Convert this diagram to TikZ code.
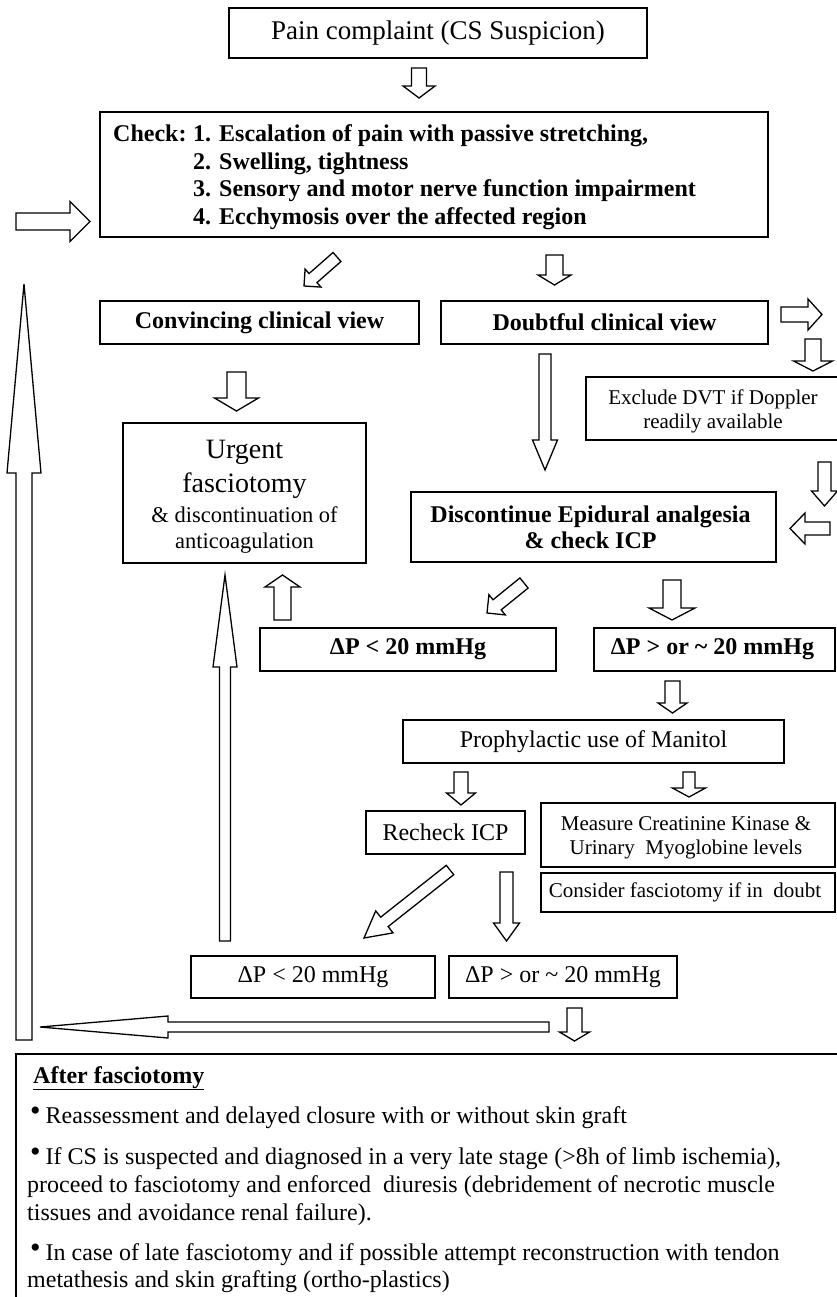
\documentclass[tikz,border=0pt]{standalone}
\usepackage{fontspec}
\setmainfont{Liberation Serif}
\usetikzlibrary{calc}
\tikzset{
  box/.style={draw=black, line width=1.1pt, rectangle, inner sep=0pt},
  blk/.style={draw=black, line width=1.3pt, fill=white, line join=miter},
  tA/.style={font=\fontsize{27}{30}\selectfont},
  tB/.style={font=\fontsize{24}{28}\selectfont\bfseries},
  tR/.style={font=\fontsize{24}{28}\selectfont},
  tS/.style={font=\fontsize{21}{24}\selectfont},
  tU/.style={font=\fontsize{22.5}{26}\selectfont},
  tBody/.style={font=\fontsize{24}{28}\selectfont},
  ln/.style={inner sep=0pt, anchor=base west},
  lc/.style={inner sep=0pt, anchor=base}
}
\newcommand{\BlkArrow}[5]{%
  \coordinate (tmpB) at ($(#2)!#5!(#1)$);
  \draw[blk] ($(#1)!#3!90:(#2)$) -- ($(tmpB)!#3!90:(#2)$) -- ($(tmpB)!#4!90:(#2)$) -- (#2)
    -- ($(tmpB)!#4!-90:(#2)$) -- ($(tmpB)!#3!-90:(#2)$) -- ($(#1)!#3!-90:(#2)$) -- cycle;}
\newcommand{\bul}{{\fontsize{30}{30}\selectfont\raisebox{2.5pt}{•}}\hspace{5pt}}
\newcommand{\tld}{\textasciitilde}
\begin{document}
\begin{tikzpicture}[x=1pt,y=1pt]
\useasboundingbox (0,0) rectangle (836,-1297);
\fill[white] (0,0) rectangle (836,-1297);

% boxes
\node[box, tA, minimum width=418, minimum height=50] (pain) at (438,-33) {Pain complaint (CS Suspicion)};
\node[box, minimum width=668, minimum height=125] (check) at (434,-174.5) {};
\node[box, tB, minimum width=319, minimum height=43] (conv) at (259.5,-322.5) {Convincing clinical view};
\node[box, tB, minimum width=327, minimum height=43] (doubt) at (604.5,-322.5) {Doubtful clinical view};
\node[box, minimum width=254, minimum height=63] (excl) at (713,-408.5) {};
\node[box, minimum width=243, minimum height=140] (urg) at (244.5,-493) {};
\node[box, minimum width=365, minimum height=70] (disc) at (593.5,-527) {};
\node[box, tB, minimum width=296, minimum height=43] (dpla) at (408,-649.5) {ΔP < 20 mmHg};
\node[box, tB, minimum width=241, minimum height=43] (dpga) at (714.5,-649.5) {\hspace*{-4pt}ΔP > or \tld{} 20 mmHg};
\node[box, tR, minimum width=381, minimum height=43] (mani) at (593.5,-741.5) {Prophylactic use of Manitol};
\node[box, tR, minimum width=159, minimum height=43] (rech) at (445.5,-832.5) {Recheck ICP};
\node[box, minimum width=294, minimum height=64] (meas) at (688,-835) {};
\node[box, tS, minimum width=294, minimum height=39] (cons) at (688,-892.5) {\hspace*{-6pt}Consider fasciotomy if in\ \ doubt};
\node[box, tR, minimum width=244, minimum height=42] (dplb) at (313,-977) {ΔP < 20 mmHg};
\node[box, tR, minimum width=228, minimum height=42] (dpgb) at (563,-977) {ΔP > or \tld{} 20 mmHg};
\node[box, minimum width=834, minimum height=266] (after) at (433,-1187) {};

% texts of multi-line boxes
\node[ln, tB] (chk0) at (113,-142) {Check:};
\node[ln, tB] (chk1) at (193,-142) {1. Escalation of pain with passive stretching,};
\node[ln, tB] (chk2) at (193,-170) {2. Swelling, tightness};
\node[ln, tB] (chk3) at (193,-197) {3. Sensory and motor nerve function impairment};
\node[ln, tB] (chk4) at (193,-225) {4. Ecchymosis over the affected region};

\node[lc, tS] (ex1) at (713,-404) {Exclude DVT if Doppler};
\node[lc, tS] (ex2) at (713,-428) {readily available};

\node[lc, font=\fontsize{28}{30}\selectfont] (ug1) at (244.5,-458) {Urgent};
\node[lc, font=\fontsize{28}{30}\selectfont] (ug2) at (244.5,-492) {fasciotomy};
\node[lc, tU] (ug3) at (244.5,-522) {\& discontinuation of};
\node[lc, tU] (ug4) at (244.5,-548) {anticoagulation};

\node[lc, tB] (dc1) at (590.5,-522) {Discontinue Epidural analgesia};
\node[lc, tB] (dc2) at (590.5,-548) {\& check ICP};

\node[lc, tS] (ms1) at (686,-830) {Measure Creatinine Kinase \&};
\node[lc, tS] (ms2) at (686,-854) {Urinary\ \ Myoglobine levels};

\node[ln, tB] (af0) at (33,-1083) {\underline{After fasciotomy}};
\node[ln, tBody] (af1) at (30,-1123) {\bul Reassessment and delayed closure with or without skin graft};
\node[ln, tBody] (af2) at (30,-1164) {\bul If CS is suspected and diagnosed in a very late stage (>8h of limb ischemia),};
\node[ln, tBody] (af3) at (27,-1192) {proceed to fasciotomy and enforced\ \ diuresis (debridement of necrotic muscle};
\node[ln, tBody] (af4) at (27,-1220) {tissues and avoidance renal failure).};
\node[ln, tBody] (af5) at (30,-1260) {\bul In case of late fasciotomy and if possible attempt reconstruction with tendon};
\node[ln, tBody] (af6) at (27,-1287) {metathesis and skin grafting (ortho-plastics)};

% arrow end points
\coordinate (a1s) at (419,-68);   \coordinate (a1e) at (419,-98);
\coordinate (a2s) at (16,-221.5); \coordinate (a2e) at (90,-221.5);
\coordinate (a3s) at (337,-257);  \coordinate (a3e) at (304,-286);
\coordinate (a4s) at (554.5,-255);\coordinate (a4e) at (554.5,-285);
\coordinate (a5s) at (781,-314.5);\coordinate (a5e) at (822,-314.5);
\coordinate (a6s) at (813,-339);  \coordinate (a6e) at (813,-371);
\coordinate (a7s) at (236.5,-372);\coordinate (a7e) at (236.5,-411);
\coordinate (a8s) at (545,-354);  \coordinate (a8e) at (545,-470);
\coordinate (a9s) at (824.5,-462);\coordinate (a9e) at (824.5,-506);
\coordinate (a10s) at (830,-528.5);\coordinate (a10e) at (790,-528.5);
\coordinate (a11s) at (282.5,-620);\coordinate (a11e) at (282.5,-575);
\coordinate (a12s) at (524,-583); \coordinate (a12e) at (487,-613);
\coordinate (a13s) at (672,-580); \coordinate (a13e) at (672,-620);
\coordinate (a14s) at (672.5,-681);\coordinate (a14e) at (672.5,-713);
\coordinate (a15s) at (461,-772); \coordinate (a15e) at (461,-805);
\coordinate (a16s) at (689,-772); \coordinate (a16e) at (689,-797);
\coordinate (a17s) at (450,-870); \coordinate (a17e) at (364,-938);
\coordinate (a18s) at (506.5,-872);\coordinate (a18e) at (506.5,-941);
\coordinate (a19s) at (225,-941); \coordinate (a19e) at (225,-575);
\coordinate (a20s) at (549,-1027);\coordinate (a20e) at (40,-1027);
\coordinate (a21s) at (574.5,-1008);\coordinate (a21e) at (574.5,-1041);
\coordinate (a22s) at (24,-1040); \coordinate (a22e) at (24,-284);

\BlkArrow{a1s}{a1e}{7.5pt}{16pt}{12pt}
\BlkArrow{a2s}{a2e}{8.5pt}{20pt}{20pt}
\BlkArrow{a3s}{a3e}{6pt}{12pt}{12pt}
\BlkArrow{a4s}{a4e}{8.5pt}{16.5pt}{10pt}
\BlkArrow{a5s}{a5e}{7.5pt}{15.5pt}{14pt}
\BlkArrow{a6s}{a6e}{8pt}{19.5pt}{10pt}
\BlkArrow{a7s}{a7e}{9.5pt}{22pt}{13pt}
\BlkArrow{a8s}{a8e}{6pt}{12.5pt}{30pt}
\BlkArrow{a9s}{a9e}{6.5pt}{13pt}{15pt}
\BlkArrow{a10s}{a10e}{6.5pt}{15.5pt}{15pt}
\BlkArrow{a11s}{a11e}{8.5pt}{17.5pt}{12pt}
\BlkArrow{a12s}{a12e}{6.5pt}{13pt}{13pt}
\BlkArrow{a13s}{a13e}{9pt}{23pt}{12pt}
\BlkArrow{a14s}{a14e}{7.5pt}{14.5pt}{10pt}
\BlkArrow{a15s}{a15e}{7pt}{14.5pt}{12pt}
\BlkArrow{a16s}{a16e}{6pt}{16.5pt}{9pt}
\BlkArrow{a17s}{a17e}{6pt}{14pt}{26pt}
\BlkArrow{a18s}{a18e}{6.5pt}{13pt}{18pt}
\BlkArrow{a19s}{a19e}{5.5pt}{12pt}{92pt}
\BlkArrow{a20s}{a20e}{5pt}{11pt}{128pt}
\BlkArrow{a21s}{a21e}{7.5pt}{15pt}{9pt}
\BlkArrow{a22s}{a22e}{8pt}{17pt}{189pt}
\end{tikzpicture}
\end{document}
